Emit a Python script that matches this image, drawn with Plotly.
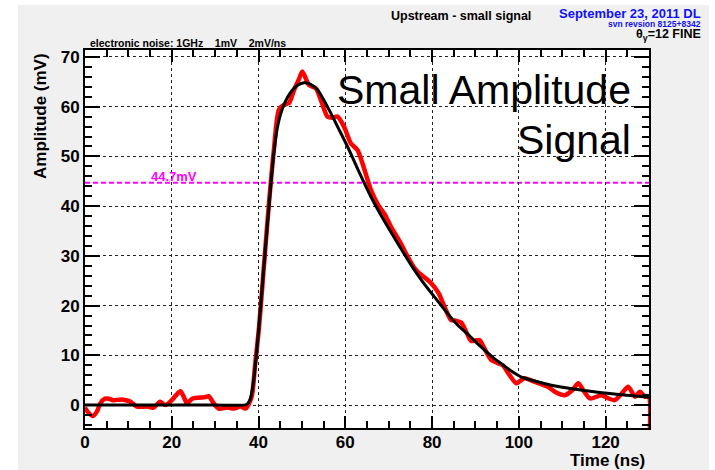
import plotly.graph_objects as go

# ---- data ----
fit_t = [0, 30, 36.5, 37.2, 37.7, 38.2, 38.8, 39.6, 40.4, 41.2, 42.3, 43.5, 44.5, 45.9, 47.5, 49, 50.5, 52,
         53.6, 55, 56.6, 58.5, 60.5, 63, 65.9, 69, 72.1, 75, 77.5, 80.5, 83.6, 86, 88.3, 91.3,
         94, 96, 98, 99.8, 101, 103, 107.5, 113, 119.1, 125, 130]
fit_a = [0, 0, 0, 0.1, 0.5, 1.5, 4.5, 11, 19, 27.5, 39, 50.5, 56.5, 60.5, 63, 64.3, 64.8, 64.5,
         63.4, 61.4, 58.8, 55.5, 52, 47.2, 41.9, 37, 32.5, 28.4, 25.2, 21.8, 18.4, 16, 14.2, 11.7,
         9.6, 8.3, 7.0, 6.0, 5.5, 5.0, 4.0, 3.2, 2.5, 2.0, 1.6]

sig_t = [0, 0.5, 1.8, 2.8, 3.5, 4.6, 5.5, 6.5, 8, 8.9, 10.4, 12, 14.3, 15.8, 17.3, 18.5, 20, 21, 22,
         23, 23.5, 24.7, 26.2, 27.7, 28.5, 29.7, 30.8, 32.8, 34.3, 35.8, 37, 37.8, 38.5, 39.2, 40.1,
         41.2, 42.3, 43.5, 44.7, 45.9, 47, 48.2, 49.3, 50.1, 51.6, 53.2, 54.5, 55.9, 57, 58.2, 59.7,
         61.3, 62.8, 64, 65.9, 67.8, 69, 70.5, 72.8, 74.4, 75.9, 76.7, 78.5, 79.8, 81.5, 83, 84.4,
         85.5, 86.7, 88, 89, 90.9, 92, 93.6, 95, 96.3, 97.5, 99.4, 100.5, 101.3, 103.6, 106.7, 108.5,
         110.6, 112.3, 113.7, 115, 116.4, 119.1, 120.5, 122.1, 123.7, 125.2, 126.8, 127.9, 129.1,
         129.9, 130]
sig_a = [-0.5, -1.2, -2.2, -1.2, 0.3, 1.3, 1.3, 1.0, 1.1, 1.1, 0.7, -0.3, -0.3, -0.5, 0.7, 0, 1.0, 2.0, 2.8,
         1.2, 0.3, 1.3, 1.5, 1.6, 1.8, 0.3, -0.7, -0.5, -0.7, -0.3, -0.7, 0.3, 2, 8, 15.5,
         27.5, 39.5, 51, 59.4, 60.4, 60.7, 63.4, 65.5, 67.1, 64.4, 63.7, 61, 58, 57.8, 58, 56,
         52.6, 51.3, 48.5, 43.3, 39.9, 38.5, 35.9, 32.5, 29.8, 27.6, 26.8, 25.5, 24.5, 22.5, 19.5, 17.1,
         17.0, 16.6, 14.5, 12.9, 13.1, 11.5, 9.1, 8.5, 8.0, 6.5, 4.4, 5.0, 5.4, 4.7, 3.7, 2.6,
         2.0, 3.0, 4.4, 2.8, 1.35, 2.0, 1.4, 1.0, 2.3, 3.7, 1.7, 2.7, 1.7,
         1.8, -10]

threshold = 44.7
x_ticks = [0, 20, 40, 60, 80, 100, 120]
y_ticks = [0, 10, 20, 30, 40, 50, 60, 70]

FONT = "Liberation Sans"

fig = go.Figure()
fig.add_trace(go.Scatter(x=sig_t, y=sig_a, mode="lines",
                         line=dict(color="#ff0000", width=4.5, shape="spline", smoothing=0.7),
                         showlegend=False, hoverinfo="skip"))
fig.add_trace(go.Scatter(x=fit_t, y=fit_a, mode="lines",
                         line=dict(color="#000000", width=3, shape="spline", smoothing=0.6),
                         showlegend=False, hoverinfo="skip"))

fig.add_shape(type="line", xref="x", yref="y", x0=0, x1=130, y0=threshold, y1=threshold,
              line=dict(color="#ff00ff", width=2, dash="5px,3px"), layer="below")

L, T, W, H = 85, 50, 564, 378
def px(x):
    return (x - L) / W
def py(y):
    return (T + H - y) / H

# white strips around the grey canvas
for x0, x1, y0, y1 in [(0, 18, 0, 470), (0, 715, 0, 5), (709, 715, 0, 470)]:
    fig.add_shape(type="rect", xref="paper", yref="paper", x0=px(x0), x1=px(x1),
                  y0=py(y1), y1=py(y0), fillcolor="white", line=dict(width=0), layer="above")

axis_common = dict(
    showline=True, linecolor="black", linewidth=2, mirror="allticks",
    ticks="inside", tickcolor="black", tickwidth=1.5,
    showgrid=True, gridcolor="#222222", gridwidth=1, griddash="dot",
    zeroline=False,
    tickfont=dict(family=FONT, size=17, color="black", weight="bold"),
)

fig.update_xaxes(range=[0, 130], tickvals=x_ticks, ticktext=[str(v) for v in x_ticks],
                 ticklen=12, ticklabelstandoff=-2,
                 minor=dict(dtick=5, tick0=0, ticks="inside", ticklen=7, tickcolor="black",
                            tickwidth=1.5, showgrid=False),
                 **axis_common)
fig.update_yaxes(range=[-4.6, 71.4], tickvals=y_ticks, ticktext=[str(v) for v in y_ticks],
                 ticklen=15,
                 minor=dict(dtick=2, tick0=0, ticks="inside", ticklen=7, tickcolor="black",
                            tickwidth=1.5, showgrid=False),
                 **axis_common)

ann = []
def add(text, x, y, size, xanchor="left", yanchor="middle", color="black", bold=True,
        angle=0, xref="paper", yref="paper", yshift=0):
    ann.append(dict(text=text, x=x, y=y, xref=xref, yref=yref, xanchor=xanchor, yanchor=yanchor,
                    showarrow=False, textangle=angle, yshift=yshift,
                    font=dict(family=FONT, size=size, color=color,
                              weight="bold" if bold else "normal")))

add("Upstream - small signal", px(533), py(16), 12.5, xanchor="right")
add("September 23, 2011 DL", px(703), py(13.5), 13, xanchor="right", color="#1010ff")
add("svn revsion 8125+8342", px(703), py(23.5), 8.5, xanchor="right", color="#1010ff")
add("θ<sub>γ</sub>=12 FINE", px(703), py(35), 12.5, xanchor="right")
add("electronic noise: 1GHz\u00a0\u00a0\u00a0 1mV\u00a0\u00a0\u00a0 2mV/ns", px(88), py(42.5), 10.5)
add("Small Amplitude", px(633), py(90), 41, xanchor="right", bold=False)
add("Signal", px(633), py(140), 41, xanchor="right", bold=False)
add("Amplitude (mV)", px(40), py(116), 17, xanchor="center", angle=-90)
add("Time (ns)", px(647), py(461), 17, xanchor="right")
add("44.7mV", 14.75, threshold, 13, xanchor="left", color="#ff00ff",
    xref="x", yref="y", yshift=6)

fig.update_layout(
    width=715, height=470, autosize=False,
    margin=dict(l=L, r=715 - L - W, t=T, b=470 - T - H),
    paper_bgcolor="#f0f0f0", plot_bgcolor="white",
    annotations=ann, showlegend=False,
    font=dict(family=FONT),
)

fig.write_html("out.html")
